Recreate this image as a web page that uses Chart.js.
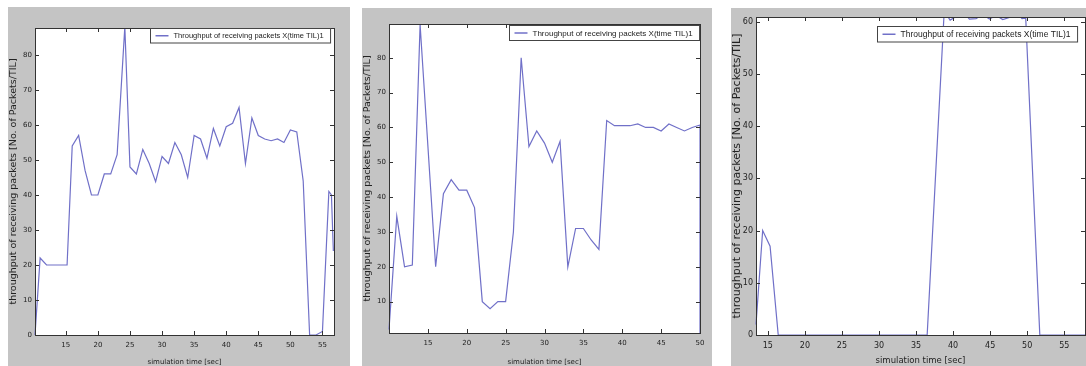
<!DOCTYPE html>
<html>
<head>
<meta charset="utf-8">
<script src="https://cdn.jsdelivr.net/npm/chart.js@4"></script>
<style>
    body { margin: 0; background: #fff; width: 1086px; height: 366px; position: relative; overflow: hidden; }
    .panel { position: absolute; }
</style>
</head>
<body>
<div class="panel" style="left:8px;top:7px;width:342px;height:359px"><canvas id="chartA"></canvas></div>
<div class="panel" style="left:362px;top:8px;width:350px;height:358px"><canvas id="chartB"></canvas></div>
<div class="panel" style="left:731px;top:8px;width:355px;height:358px"><canvas id="chartC"></canvas></div>
<script>
const seriesLabel = 'Throughput of receiving packets X(time TIL)1';
const xTitle = 'simulation time [sec]';
const yTitle = 'throughput of receiving packets [No. of Packets/TIL]';

// panel 1
const timeA = [10.2, 11, 12, 13, 14, 15.2, 16, 17, 18, 19, 20, 21, 22, 23, 24.2, 25, 26, 27, 28, 29, 30, 31, 32, 33, 34,
    35, 36, 37, 38, 39, 40, 41, 42, 43, 44, 45, 46, 47, 48, 49, 50, 51, 52, 53, 54, 55, 56, 56.4, 56.7];
const valuesA = [0, 22, 20, 20, 20, 20, 54, 57, 47, 40, 40, 46, 46, 51.5, 88, 48, 46, 53, 49, 43.8, 51, 49, 55, 51.5, 45,
    57, 56, 50.5, 59, 54, 59.5, 60.5, 65, 49, 62, 57, 56, 55.5, 56, 55, 58.6, 58, 44, 0, 0, 1, 41, 40, 24];
const xTicksA = [15, 20, 25, 30, 35, 40, 45, 50, 55];
const yTicksA = [0, 10, 20, 30, 40, 50, 60, 70, 80];

// panel 2
const timeB = [10, 11, 12, 13, 14, 16, 17, 18, 19, 20, 21, 22, 23, 24, 25, 26, 27, 28, 29, 30, 31, 32, 33, 34, 35,
    36, 37, 38, 39, 40, 41, 42, 43, 44, 45, 46, 47, 48, 49, 50, 50];
const valuesB = [2, 34.5, 20, 20.5, 89.5, 20, 41, 45, 42, 42, 37, 10, 8, 10, 10, 30, 80, 54.5, 59, 55.5, 50, 56, 20, 31, 31,
    27.7, 25, 62, 60.5, 60.5, 60.5, 61, 60, 60, 59, 61, 60, 59, 60, 60.7, 1];
const xTicksB = [15, 20, 25, 30, 35, 40, 45, 50];
const yTicksB = [10, 20, 30, 40, 50, 60, 70, 80];

// panel 3
const timeC = [13.4, 14.3, 15.3, 16.4, 36.5, 38.8, 39.6, 40.4, 41.3, 42.2, 43.1, 44, 44.9, 45.8, 46.7, 47.6, 48.5, 49.3, 49.8, 51.7, 57.8];
const valuesC = [2, 20, 17, 0, 0, 62, 60.3, 61, 62, 60.5, 60.6, 61.4, 60.5, 61.2, 60.4, 60.8, 61.8, 60.6, 60.7, 0, 0];
const xTicksC = [15, 20, 25, 30, 35, 40, 45, 50, 55];
const yTicksC = [0, 10, 20, 30, 40, 50, 60];

const matlabFrame = {
    id: 'matlabFrame',
    beforeDraw(chart) {
        const {ctx, chartArea: a} = chart;
        ctx.save();
        ctx.fillStyle = '#c4c4c4';
        ctx.fillRect(0, 0, chart.width, chart.height);
        ctx.fillStyle = '#fff';
        ctx.fillRect(a.left, a.top, a.right - a.left, a.bottom - a.top);
        ctx.restore();
    },
    afterDraw(chart) {
        const {ctx, chartArea: a, scales} = chart;
        const o = chart.options.plugins.matlabFrame;
        ctx.save();
        ctx.strokeStyle = '#333';
        ctx.lineWidth = 1;
        ctx.beginPath();
        scales.x.ticks.forEach(t => {
            const px = Math.round(scales.x.getPixelForValue(t.value)) + 0.5;
            ctx.moveTo(px, a.bottom); ctx.lineTo(px, a.bottom - 4);
            ctx.moveTo(px, a.top); ctx.lineTo(px, a.top + 4);
        });
        scales.y.ticks.forEach(t => {
            const py = Math.round(scales.y.getPixelForValue(t.value)) + 0.5;
            ctx.moveTo(a.left, py); ctx.lineTo(a.left + 4, py);
            ctx.moveTo(a.right, py); ctx.lineTo(a.right - 4, py);
        });
        ctx.stroke();
        ctx.strokeRect(Math.round(a.left) + 0.5, Math.round(a.top) + 0.5,
            Math.round(a.right - a.left), Math.round(a.bottom - a.top));

        // legend box, drawn over the line like matlab does
        const ds = chart.data.datasets[0];
        ctx.font = o.legendFont + 'px "Liberation Sans", Arial, sans-serif';
        const tw = ctx.measureText(ds.label).width;
        const bw = tw + 30, bh = o.legendFont + 7;
        const bx = Math.round(a.right - o.legendRight - bw) + 0.5;
        const by = Math.round(a.top + o.legendTop) + 0.5;
        ctx.fillStyle = '#fff';
        ctx.fillRect(bx, by, bw, bh);
        ctx.strokeStyle = '#444';
        ctx.strokeRect(bx, by, bw, bh);
        ctx.strokeStyle = ds.borderColor;
        ctx.lineWidth = 1.5;
        ctx.beginPath();
        ctx.moveTo(bx + 5, by + bh / 2);
        ctx.lineTo(bx + 18, by + bh / 2);
        ctx.stroke();
        ctx.fillStyle = '#222';
        ctx.textBaseline = 'middle';
        ctx.fillText(ds.label, bx + 23, by + bh / 2 + 0.5);
        ctx.restore();
    }
};

function renderPanel(id, time, values, xTicks, yTicks, cfg) {
    const ctx = document.getElementById(id);
    new Chart(ctx, {
        type: 'line',
        data: {
            datasets: [{
                label: seriesLabel,
                data: time.map((t, i) => ({x: t, y: values[i]})),
                borderColor: '#7070c8',
                borderWidth: 1.2,
                pointRadius: 0,
                tension: 0,
                clip: {left: 1, top: 0, right: 1, bottom: 2}
            }]
        },
        options: {
            animation: false,
            responsive: true,
            maintainAspectRatio: false,
            layout: {padding: {top: cfg.padTop, right: cfg.padRight, left: 0, bottom: 0}},
            plugins: {
                legend: {display: false},
                tooltip: {enabled: false},
                matlabFrame: {legendFont: cfg.legendFont, legendRight: cfg.legendRight, legendTop: cfg.legendTop}
            },
            scales: {
                x: {
                    type: 'linear',
                    min: cfg.xMin,
                    max: cfg.xMax,
                    afterBuildTicks: s => { s.ticks = xTicks.map(v => ({value: v})); },
                    afterFit: s => { s.height = cfg.xAxisH; },
                    grid: {display: false, drawTicks: false},
                    border: {display: false},
                    ticks: {color: '#222', padding: 6, maxRotation: 0, font: {size: cfg.tickFont, family: 'DejaVu Sans'}},
                    title: {display: true, text: xTitle, color: '#222', padding: {top: 1, bottom: 0},
                        font: {size: cfg.titleFont, family: 'DejaVu Sans'}}
                },
                y: {
                    min: cfg.yMin,
                    max: cfg.yMax,
                    afterBuildTicks: s => { s.ticks = yTicks.map(v => ({value: v})); },
                    afterFit: s => { s.width = cfg.yAxisW; },
                    grid: {display: false, drawTicks: false},
                    border: {display: false},
                    ticks: {color: '#222', padding: 3, font: {size: cfg.tickFont, family: 'DejaVu Sans'}},
                    title: {display: true, text: yTitle, color: '#222', padding: {top: 0, bottom: 0},
                        font: {size: cfg.yTitleFont, family: 'DejaVu Sans'}}
                }
            }
        },
        plugins: [matlabFrame]
    });
}

renderPanel('chartA', timeA, valuesA, xTicksA, yTicksA, {
    xMin: 10.2, xMax: 56.8, yMin: 0, yMax: 87.7,
    padTop: 21, padRight: 16, xAxisH: 31, yAxisW: 27,
    tickFont: 7, titleFont: 7, yTitleFont: 9.5, legendFont: 7.5, legendRight: 4, legendTop: 0
});
renderPanel('chartB', timeB, valuesB, xTicksB, yTicksB, {
    xMin: 10, xMax: 50, yMin: 1, yMax: 89.7,
    padTop: 16, padRight: 12, xAxisH: 33, yAxisW: 27,
    tickFont: 7, titleFont: 7, yTitleFont: 9.5, legendFont: 8, legendRight: 1, legendTop: 1
});
renderPanel('chartC', timeC, valuesC, xTicksC, yTicksC, {
    xMin: 13.4, xMax: 57.8, yMin: 0, yMax: 60.9,
    padTop: 9, padRight: 1, xAxisH: 31, yAxisW: 25,
    tickFont: 8, titleFont: 8.5, yTitleFont: 11, legendFont: 8.5, legendRight: 8, legendTop: 9
});
</script>
</body>
</html>
